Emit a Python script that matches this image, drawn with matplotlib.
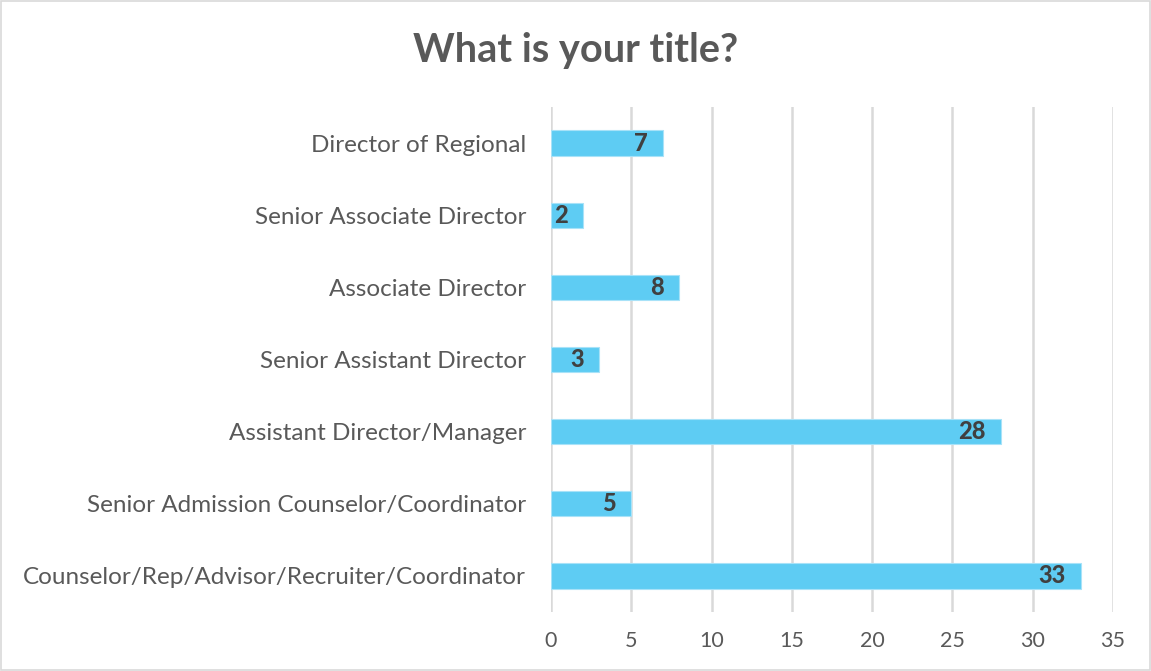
import matplotlib
matplotlib.use("Agg")
import matplotlib.pyplot as plt
from matplotlib.patches import Rectangle

categories = [
    "Counselor/Rep/Advisor/Recruiter/Coordinator",
    "Senior Admission Counselor/Coordinator",
    "Assistant Director/Manager",
    "Senior Assistant Director",
    "Associate Director",
    "Senior Associate Director",
    "Director of Regional",
]
values = [33, 5, 28, 3, 8, 2, 7]
xticks = [0, 5, 10, 15, 20, 25, 30, 35]

plt.rcParams['font.family'] = ['Lato', 'DejaVu Sans']

fig = plt.figure(figsize=(11.51, 6.71), dpi=100)
ax = fig.add_axes([0.4787, 0.0879, 0.967 - 0.4787, 0.8405 - 0.0879])

ypos = list(range(len(categories)))
bars = ax.barh(ypos, values, height=0.35, color="#5ECCF3", edgecolor="#A8E2F8", linewidth=0.8, zorder=3)

for y, v in zip(ypos, values):
    ax.annotate(str(v), xy=(v, y), xytext=(-11, 0), textcoords="offset points",
                ha="right", va="center", fontsize=17, fontweight="black", color="#404040", zorder=4)

ax.set_xlim(0, 35)
ax.set_ylim(-0.5, len(categories) - 0.5)
ax.set_xticks(xticks)
ax.set_yticks(ypos)
ax.set_yticklabels(categories)
ax.tick_params(axis="both", length=0, colors="#595959")
ax.tick_params(axis="x", pad=14, labelsize=15.5)
ax.tick_params(axis="y", pad=18, labelsize=17.5)
ax.xaxis.grid(True, color="#D9D9D9", linewidth=1.8, zorder=0)
ax.yaxis.grid(False)
for s in ax.spines.values():
    s.set_visible(False)

fig.text(0.5, 0.925, "What is your title?", ha="center", va="center",
         fontsize=28.6, fontweight="bold", color="#595959")

fig.patches.append(Rectangle((0.001, 0.001), 0.998, 0.998, transform=fig.transFigure,
                             fill=False, edgecolor="#D9D9D9", linewidth=1.2))

fig.savefig("out.png", dpi=100, facecolor="white")
